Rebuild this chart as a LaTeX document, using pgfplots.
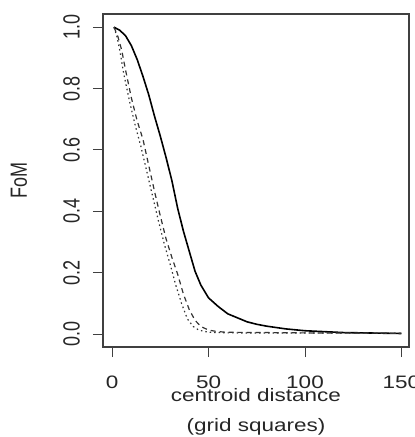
\documentclass[border=0pt]{standalone}
\usepackage{fontspec}
\setmainfont{Liberation Sans}
\usepackage{pgfplots}
\pgfplotsset{compat=1.18}
\begin{document}
\begin{tikzpicture}
\begin{axis}[
  scale only axis, width=306pt, height=333pt,
  xmin=-4.7, xmax=153.9, ymin=-0.042, ymax=1.043,
  axis line style={black!75, line width=1.1pt},
  xtick={0,50,100,150}, ytick={0,0.2,0.4,0.6,0.8,1.0},
  xtick pos=left, ytick pos=left, tick align=outside,
  major tick length=10pt, tick style={black!75, line width=1pt},
  /pgf/number format/assume math mode=true,
  tick label style={font=\fontsize{18}{20}\selectfont, text=black!85},
  yticklabel style={/pgf/number format/fixed, /pgf/number format/fixed zerofill, /pgf/number format/precision=1},
  xticklabel style={anchor=center, yshift=-25pt, xscale=1.25},
  yticklabel style={rotate=90, yscale=1.3, anchor=south, inner sep=0pt},
  yticklabel shift=13pt,
  xlabel={centroid distance\\(grid squares)},
  xlabel style={at={(axis description cs:0.5,-0.195)}, anchor=center, align=center, font=\fontsize{18}{30}\selectfont, xscale=1.25, text=black!85},
  ylabel={FoM},
  ylabel style={at={(axis description cs:-0.275,0.5)}, anchor=center, yscale=1.3, font=\fontsize{18}{20}\selectfont, text=black!85},
]
\addplot[black, line width=1.6pt] coordinates {
(1,1.0) (4,0.99) (7,0.972) (10,0.94) (13,0.895) (16,0.84) (19,0.78) (22,0.71)
(25,0.645) (28,0.575) (31,0.50) (34,0.41) (37,0.335) (40,0.27) (43,0.205)
(46,0.16) (50,0.118) (55,0.09) (60,0.066) (65,0.053) (70,0.040) (75,0.032)
(80,0.026) (90,0.017) (100,0.011) (110,0.008) (120,0.005) (130,0.004) (140,0.003) (150,0.002)
};
\addplot[black!80, line width=1.2pt, dash pattern=on 5pt off 4pt] coordinates {
(1,1.0) (3,0.97) (5,0.925) (7,0.86) (10,0.77) (13,0.695) (16,0.635) (19,0.55)
(22,0.465) (25,0.385) (28,0.31) (31,0.25) (34,0.195) (37,0.13) (40,0.08)
(43,0.045) (46,0.025) (50,0.013) (55,0.008) (60,0.006) (80,0.005) (100,0.004) (150,0.003)
};
\addplot[black!80, line width=1.2pt, dash pattern=on 1.5pt off 3pt] coordinates {
(1,1.0) (2.5,0.97) (4,0.925) (6,0.85) (9,0.76) (12,0.68) (15,0.61) (18,0.53)
(21,0.45) (24,0.37) (27,0.295) (30,0.23) (33,0.16) (36,0.10) (39,0.05)
(42,0.025) (45,0.013) (50,0.006) (60,0.004) (150,0.003)
};
\end{axis}
\pgfresetboundingbox
\path[use as bounding box] ([shift={(-103pt,-90pt)}]current axis.south west) rectangle ([shift={(6pt,14pt)}]current axis.north east);
\end{tikzpicture}
\end{document}
